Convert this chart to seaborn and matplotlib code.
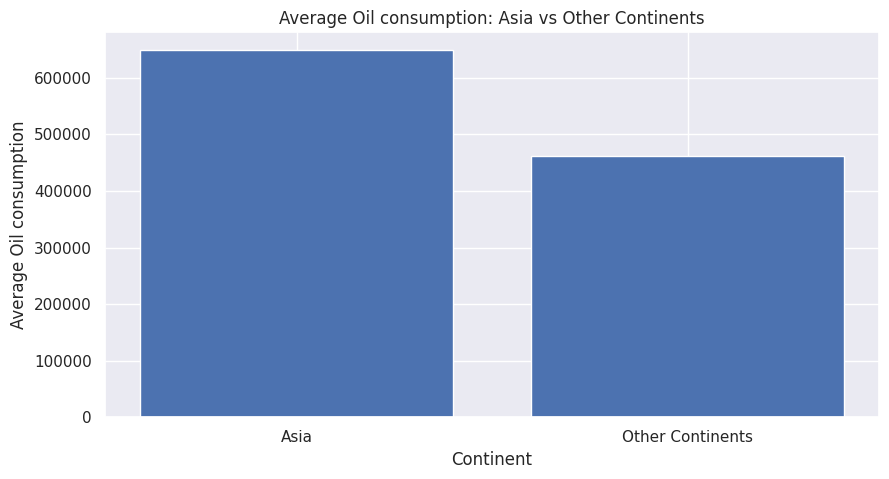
import matplotlib
matplotlib.use("Agg")
import matplotlib.pyplot as plt
import seaborn as sns

# ── Data ──────────────────────────────────────────────────────────────
continents = ["Asia", "Other Continents"]
avg_oil    = [648500, 461000]

sns.set_theme(style="darkgrid")

fig, ax = plt.subplots(figsize=(8.89, 4.79), dpi=100)
fig.subplots_adjust(left=0.118, right=0.989, top=0.933, bottom=0.129)

ax.bar(continents, avg_oil, color="#4c72b0")
ax.set_xlabel("Continent")
ax.set_ylabel("Average Oil consumption")
ax.set_title("Average Oil consumption: Asia vs Other Continents")

fig.savefig("out.png", dpi=100)
plt.close()
